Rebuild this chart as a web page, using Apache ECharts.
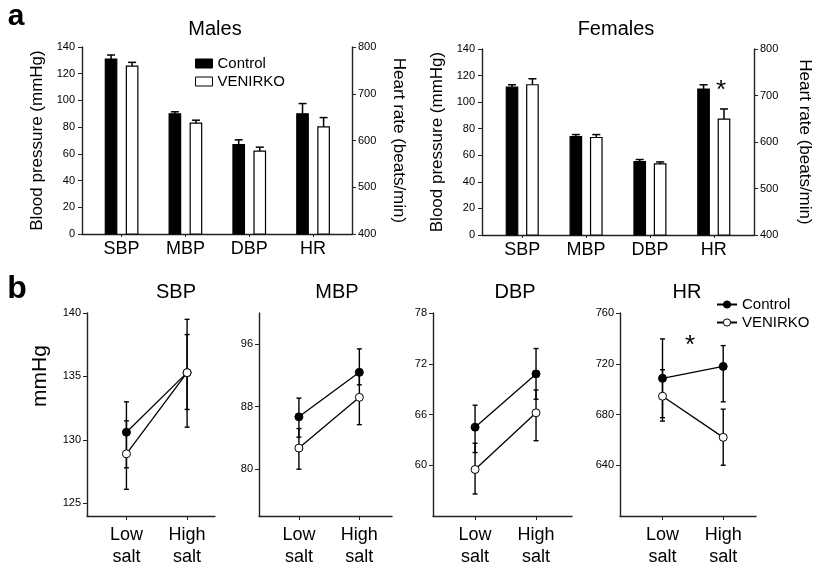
<!DOCTYPE html>
<html>
<head>
<meta charset="utf-8">
<title>VENIRKO blood pressure</title>
<script src="https://cdn.jsdelivr.net/npm/echarts@6/dist/echarts.min.js"></script>
<style>
  html, body { margin: 0; padding: 0; background: #fff; }
  #main { width: 814px; height: 568px; }
</style>
</head>
<body>
<div id="main"></div>
<script>
var FONT = '"Liberation Sans", Arial, Helvetica, sans-serif';
var NARROW = '"Liberation Sans Narrow", "Liberation Sans", Arial, sans-serif';

// ---- panel a: bars (SBP, MBP, DBP in mmHg; HR in beats/min) ----
var measures = ['SBP', 'MBP', 'DBP', 'HR'];
var maleControl = [131.0, 90.0, 67.0, 657];
var maleControlSem = [3.0, 1.5, 3.5, 22];
var maleVenirko = [125.7, 83.0, 62.0, 629];
var maleVenirkoSem = [2.8, 2.2, 3.0, 20];
var femaleControl = [111.3, 74.1, 55.3, 714];
var femaleControlSem = [1.8, 1.5, 1.5, 9];
var femaleVenirko = [113.1, 73.4, 53.5, 649];
var femaleVenirkoSem = [4.5, 2.2, 1.5, 22];

// ---- panel b: low vs high salt ----
var saltLabels = ['Low\nsalt', 'High\nsalt'];
var sbpControl = [130.6, 135.3], sbpControlUp = [133.0, 139.5], sbpControlLo = [127.8, 131.0];
var sbpVenirko = [128.9, 135.3], sbpVenirkoUp = [131.5, 138.3], sbpVenirkoLo = [126.1, 132.4];
var mbpControl = [86.7, 92.4], mbpControlUp = [89.1, 95.4], mbpControlLo = [84.1, 90.8];
var mbpVenirko = [82.7, 89.2], mbpVenirkoUp = [85.2, 92.6], mbpVenirkoLo = [80.0, 85.7];
var dbpControl = [64.5, 70.8], dbpControlUp = [67.1, 73.8], dbpControlLo = [61.5, 67.8];
var dbpVenirko = [59.5, 66.2], dbpVenirkoUp = [62.6, 68.9], dbpVenirkoLo = [56.6, 62.9];
var hrControl = [708.5, 717.9], hrControlUp = [739.6, 734.3], hrControlLo = [677.5, 690.0];
var hrVenirko = [694.4, 662.0], hrVenirkoUp = [715.3, 684.2], hrVenirkoLo = [674.8, 640.0];

var sbpTicks = [125, 130, 135, 140];
var mbpTicks = [80, 88, 96];
var dbpTicks = [60, 66, 72, 78];
var hrTicks = [640, 680, 720, 760];

var myChart = echarts.init(document.getElementById('main'), null, { renderer: 'canvas' });

var axisLine = { onZero: false, lineStyle: { color: '#222', width: 1.4 } };

// bars with a one-sided error bar, drawn through the axis scale
function barRender(shift, fill) {
  return function (params, api) {
    var x = api.value(0), v = api.value(1), sem = api.value(2);
    var unit = api.size([1, 0])[0];
    var w = unit * 0.18;
    var p = api.coord([x, v]);
    var cx = p[0] + shift * unit;
    var errTop = api.coord([x, v + sem])[1];
    var bottom = params.coordSys.y + params.coordSys.height;
    return {
      type: 'group',
      children: [
        { type: 'line', shape: { x1: cx, y1: p[1], x2: cx, y2: errTop }, style: { stroke: '#000', lineWidth: 1.5 } },
        { type: 'line', shape: { x1: cx - 4, y1: errTop, x2: cx + 4, y2: errTop }, style: { stroke: '#000', lineWidth: 1.5 } },
        { type: 'rect', shape: { x: cx - w / 2, y: p[1], width: w, height: bottom - p[1] },
          style: { fill: fill, stroke: '#000', lineWidth: 1.2 } }
      ]
    };
  };
}

function errRender(params, api) {
  var x = api.value(0);
  var lo = api.coord([x, api.value(1)]);
  var hi = api.coord([x, api.value(2)]);
  var st = { stroke: '#000', lineWidth: 1.4 };
  return {
    type: 'group',
    children: [
      { type: 'line', shape: { x1: lo[0], y1: lo[1], x2: hi[0], y2: hi[1] }, style: st },
      { type: 'line', shape: { x1: lo[0] - 2.5, y1: lo[1], x2: lo[0] + 2.5, y2: lo[1] }, style: st },
      { type: 'line', shape: { x1: hi[0] - 2.5, y1: hi[1], x2: hi[0] + 2.5, y2: hi[1] }, style: st }
    ]
  };
}

function pick(values, sems, idx) {
  return idx.map(function (i) { return [i, values[i], sems[i]]; });
}
function pairs(values) {
  return values.map(function (v, i) { return [i, v]; });
}
function ranges(lo, up) {
  return lo.map(function (v, i) { return [i, v, up[i]]; });
}

function xAxisA(grid, min, max) {
  return {
    gridIndex: grid, type: 'value', min: min, max: max,
    splitLine: { show: false },
    axisLine: axisLine,
    axisTick: { length: 3, customValues: [0, 1, 2, 3], lineStyle: { color: '#222' } },
    axisLabel: {
      customValues: [0, 1, 2, 3], margin: 6,
      fontSize: 18, fontFamily: FONT, color: '#000',
      formatter: function (v) { return measures[v] || ''; }
    }
  };
}
function xAxisB(grid, min, max) {
  return {
    gridIndex: grid, type: 'value', min: min, max: max,
    splitLine: { show: false },
    axisLine: axisLine,
    axisTick: { length: 4, customValues: [0, 1], lineStyle: { color: '#222' } },
    axisLabel: {
      customValues: [0, 1], margin: 8,
      fontSize: 18, lineHeight: 22, fontFamily: FONT, color: '#000',
      formatter: function (v) { return saltLabels[v] || ''; }
    }
  };
}
function yAxisB(grid, min, max, ticks) {
  return {
    gridIndex: grid, type: 'value', min: min, max: max,
    splitLine: { show: false },
    axisLine: { show: true, onZero: false, lineStyle: { color: '#222', width: 1.4 } },
    axisTick: { show: true, length: 4, customValues: ticks, lineStyle: { color: '#222' } },
    axisLabel: { customValues: ticks, margin: 6, fontSize: 11, fontFamily: NARROW, color: '#000' }
  };
}
function bpAxis(grid) {
  return {
    gridIndex: grid, type: 'value', min: 0, max: 140, interval: 20,
    name: 'Blood pressure (mmHg)', nameLocation: 'middle', nameGap: 36,
    nameTextStyle: { fontSize: 17, fontFamily: FONT, color: '#000' },
    splitLine: { show: false },
    axisLine: { show: true, onZero: false, lineStyle: { color: '#222', width: 1.4 } },
    axisTick: { show: true, length: 4, lineStyle: { color: '#222' } },
    axisLabel: { margin: 7, fontSize: 11, fontFamily: FONT, color: '#000' }
  };
}
function hrAxis(grid, gap) {
  return {
    gridIndex: grid, type: 'value', position: 'right', min: 400, max: 800, interval: 100,
    name: 'Heart rate (beats/min)', nameLocation: 'middle', nameGap: gap, nameRotate: -90,
    nameTextStyle: { fontSize: 17, fontFamily: FONT, color: '#000' },
    splitLine: { show: false },
    axisLine: { show: true, onZero: false, lineStyle: { color: '#222', width: 1.4 } },
    axisTick: { show: true, length: 4, lineStyle: { color: '#222' } },
    axisLabel: { margin: 6, fontSize: 11, fontFamily: NARROW, color: '#000' }
  };
}

function lineSeries(name, xi, yi, data, fill) {
  return {
    name: name, type: 'line', xAxisIndex: xi, yAxisIndex: yi, data: pairs(data),
    symbol: 'circle', symbolSize: 8, z: 4,
    color: '#000',
    lineStyle: { color: '#000', width: 1.3 },
    itemStyle: { color: fill, borderColor: '#000', borderWidth: 1 },
    emphasis: { disabled: true }, animation: false
  };
}
function errSeries(name, xi, yi, lo, up) {
  return {
    name: name, type: 'custom', xAxisIndex: xi, yAxisIndex: yi, z: 2,
    data: ranges(lo, up), encode: { x: 0, y: [1, 2] },
    renderItem: errRender, animation: false, silent: true
  };
}
function barSeries(name, xi, yi, data, shift, fill) {
  return {
    name: name, type: 'custom', xAxisIndex: xi, yAxisIndex: yi, z: 2,
    data: data, encode: { x: 0, y: 1 },
    renderItem: barRender(shift, fill), animation: false, silent: true
  };
}

var series = [
  // panel b lines first so the panel b legend takes its icons from them
  lineSeries('Control', 2, 4, sbpControl, '#000'),
  lineSeries('VENIRKO', 2, 4, sbpVenirko, '#fff'),
  lineSeries('Control', 3, 5, mbpControl, '#000'),
  lineSeries('VENIRKO', 3, 5, mbpVenirko, '#fff'),
  lineSeries('Control', 4, 6, dbpControl, '#000'),
  lineSeries('VENIRKO', 4, 6, dbpVenirko, '#fff'),
  lineSeries('Control', 5, 7, hrControl, '#000'),
  lineSeries('VENIRKO', 5, 7, hrVenirko, '#fff'),
  errSeries('Control', 2, 4, sbpControlLo, sbpControlUp),
  errSeries('VENIRKO', 2, 4, sbpVenirkoLo, sbpVenirkoUp),
  errSeries('Control', 3, 5, mbpControlLo, mbpControlUp),
  errSeries('VENIRKO', 3, 5, mbpVenirkoLo, mbpVenirkoUp),
  errSeries('Control', 4, 6, dbpControlLo, dbpControlUp),
  errSeries('VENIRKO', 4, 6, dbpVenirkoLo, dbpVenirkoUp),
  errSeries('Control', 5, 7, hrControlLo, hrControlUp),
  errSeries('VENIRKO', 5, 7, hrVenirkoLo, hrVenirkoUp),
  // panel a bars: blood pressures on the left axis, heart rate on the right axis
  barSeries('Control', 0, 0, pick(maleControl, maleControlSem, [0, 1, 2]), -0.165, '#000'),
  barSeries('Control', 0, 1, pick(maleControl, maleControlSem, [3]), -0.165, '#000'),
  barSeries('VENIRKO', 0, 0, pick(maleVenirko, maleVenirkoSem, [0, 1, 2]), 0.165, '#fff'),
  barSeries('VENIRKO', 0, 1, pick(maleVenirko, maleVenirkoSem, [3]), 0.165, '#fff'),
  barSeries('Control', 1, 2, pick(femaleControl, femaleControlSem, [0, 1, 2]), -0.16, '#000'),
  barSeries('Control', 1, 3, pick(femaleControl, femaleControlSem, [3]), -0.16, '#000'),
  barSeries('VENIRKO', 1, 2, pick(femaleVenirko, femaleVenirkoSem, [0, 1, 2]), 0.16, '#fff'),
  barSeries('VENIRKO', 1, 3, pick(femaleVenirko, femaleVenirkoSem, [3]), 0.16, '#fff')
];

function label(text, x, y, size, extra) {
  var el = {
    type: 'text', x: x, y: y, silent: true,
    style: { text: text, fill: '#000', font: size + 'px ' + FONT, textAlign: 'center', textVerticalAlign: 'middle' }
  };
  return Object.assign(el, extra || {});
}

var option = {
  backgroundColor: '#fff',
  animation: false,
  grid: [
    { left: 82, top: 47, width: 270, height: 187 },
    { left: 482, top: 49, width: 272, height: 186 },
    { left: 87, top: 313, width: 128, height: 203 },
    { left: 259, top: 313, width: 133, height: 203 },
    { left: 433, top: 313, width: 139, height: 204 },
    { left: 620, top: 313, width: 136, height: 204 }
  ],
  xAxis: [
    xAxisA(0, -0.62, 3.61),
    xAxisA(1, -0.63, 3.63),
    xAxisB(2, -0.65, 1.46),
    xAxisB(3, -0.66, 1.54),
    xAxisB(4, -0.69, 1.59),
    xAxisB(5, -0.70, 1.54)
  ],
  yAxis: [
    bpAxis(0), hrAxis(0, 38),
    bpAxis(1), hrAxis(1, 42),
    yAxisB(2, 124, 140, sbpTicks),
    yAxisB(3, 74, 100, mbpTicks),
    yAxisB(4, 54, 78, dbpTicks),
    yAxisB(5, 600, 760, hrTicks)
  ],
  legend: [
    {
      orient: 'vertical', left: 195, top: 56, padding: 0, selectedMode: false,
      itemWidth: 17, itemHeight: 9, itemGap: 3,
      textStyle: { fontSize: 15, fontFamily: FONT, color: '#000' },
      data: [
        { name: 'Control', icon: 'rect', itemStyle: { color: '#000', borderColor: '#000', borderWidth: 1 } },
        { name: 'VENIRKO', icon: 'rect', itemStyle: { color: '#fff', borderColor: '#000', borderWidth: 1 } }
      ]
    },
    {
      orient: 'vertical', left: 716, top: 297, padding: 0, selectedMode: false,
      itemWidth: 20, itemHeight: 9, itemGap: 3, itemStyle: { borderWidth: 1 },
      textStyle: { fontSize: 15, fontFamily: FONT, color: '#000' },
      data: ['Control', 'VENIRKO']
    }
  ],
  graphic: [
    label('a', 16, 17, 30, {}),
    label('b', 17, 289, 32, {}),
    label('Males', 215, 29, 20),
    label('Females', 616, 29, 20),
    label('SBP', 176, 292, 20),
    label('MBP', 337, 292, 20),
    label('DBP', 515, 292, 20),
    label('HR', 687, 292, 20),
    label('mmHg', 40, 376, 21, { rotation: Math.PI / 2 }),
    label('*', 721, 91, 26),
    label('*', 690, 346, 26)
  ],
  series: series
};
option.graphic[0].style.font = 'bold 30px ' + FONT;
option.graphic[1].style.font = 'bold 32px ' + FONT;

myChart.setOption(option);
</script>
</body>
</html>
